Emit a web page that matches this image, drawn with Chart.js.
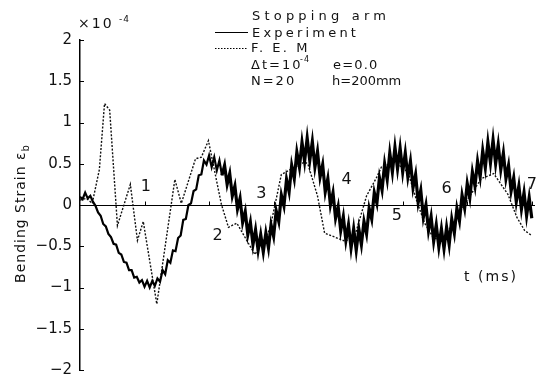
<!DOCTYPE html>
<html><head><meta charset="utf-8">
<script src="https://cdn.jsdelivr.net/npm/chart.js@4"></script>
<style>html,body{margin:0;padding:0;background:#fff;}#wrap{width:536px;height:387px;}</style>
</head><body><div id="wrap"><canvas id="c" width="536" height="387"></canvas></div>
<script>
// ---- data (time in ms, strain in 1e-4) ----
const expStart = 0;
const expStep = 0.04;
const expStrain = [
 0.10,0.07,0.15,0.08,0.11,0.04,-0.01,-0.09,-0.13,-0.23,
 -0.26,-0.35,-0.39,-0.47,-0.48,-0.58,-0.60,-0.69,-0.70,-0.79,
 -0.79,-0.88,-0.87,-0.94,-0.91,-0.99,-0.92,-1.00,-0.92,-0.98,
 -0.89,-0.93,-0.79,-0.84,-0.67,-0.70,-0.55,-0.56,-0.40,-0.37,
 -0.18,-0.17,0.00,0.02,0.17,0.19,0.36,0.37,0.54,0.49,
 0.60,0.46,0.58,0.42,0.54,0.36,0.48,0.25,0.38,0.11,
 0.23,-0.05,0.08,-0.21,-0.08,-0.36,-0.21,-0.48,-0.30,-0.55,
 -0.36,-0.57,-0.34,-0.52,-0.24,-0.38,-0.07,-0.20,0.12,-0.01,
 0.31,0.16,0.48,0.32,0.64,0.46,0.76,0.53,0.81,0.54,
 0.77,0.46,0.65,0.34,0.49,0.16,0.32,0.00,0.15,-0.16,
 -0.02,-0.31,-0.14,-0.43,-0.24,-0.52,-0.29,-0.55,-0.29,-0.48,
 -0.20,-0.35,-0.04,-0.17,0.15,0.02,0.33,0.18,0.50,0.31,
 0.63,0.40,0.70,0.44,0.69,0.40,0.63,0.34,0.53,0.21,
 0.37,0.03,0.18,-0.15,0.00,-0.31,-0.14,-0.44,-0.24,-0.51,
 -0.29,-0.53,-0.27,-0.48,-0.17,-0.34,-0.04,-0.19,0.12,-0.04,
 0.26,0.09,0.40,0.23,0.53,0.34,0.66,0.45,0.76,0.51,
 0.79,0.50,0.73,0.43,0.63,0.32,0.48,0.17,0.33,0.04,
 0.23,-0.05,0.15,-0.13,0.09,-0.16
];
const femTime = [0,0.10,0.19,0.30,0.38,0.46,0.58,0.78,0.89,0.98,1.19,1.47,1.57,1.79,1.88,1.99,2.19,2.30,2.43,2.71,2.94,3.12,3.33,3.48,3.53,3.68,3.79,3.95,4.11,4.26,4.44,4.60,4.67,4.88,5.08,5.23,5.34,5.47,5.60,5.81,6.04,6.22,6.41,6.63,6.77,6.89,7.00];
const femStrain = [0.06,0.08,0.02,0.43,1.23,1.15,-0.25,0.25,-0.43,-0.20,-1.20,0.31,0.02,0.56,0.58,0.78,0.01,-0.27,-0.22,-0.60,-0.30,0.37,0.46,0.52,0.50,0.11,-0.34,-0.39,-0.44,-0.37,0.11,0.34,0.46,0.52,0.40,0.02,-0.22,-0.39,-0.44,-0.19,0.11,0.32,0.38,0.13,-0.15,-0.31,-0.37];
const yTicks = [-2,-1.5,-1,-0.5,0,0.5,1,1.5,2];
const xTicks = [1,2,3,4,5,6,7];
const xTickLabels = ['1','2','3','4','5','6','7'];

const expData = expStrain.map((v,i)=>({x: +(expStart + i*expStep).toFixed(3), y: v}));
const femData = femTime.map((t,i)=>({x: t, y: femStrain[i]}));

// label placement (data coords) for the hand-placed time labels
const xLabelPlace = [[1.02,0.22],[2.13,-0.37],[2.81,0.13],[4.13,0.31],[4.91,-0.13],[5.68,0.19],[7.0,0.24]];

const FONT = "'DejaVu Sans', sans-serif";
function txt(ctx, s, x, y, size, spacing, align){
  ctx.font = size + 'px ' + FONT;
  ctx.letterSpacing = (spacing||0) + 'px';
  ctx.textAlign = align || 'left';
  ctx.fillText(s, x, y);
}

const overlay = {
  id: 'overlay',
  afterDraw(chart){
    const {ctx, scales:{x, y}} = chart;
    ctx.save();
    ctx.fillStyle = '#111';
    ctx.strokeStyle = '#000';
    ctx.lineWidth = 1;
    yTicks.forEach(v=>{
      const py = Math.round(y.getPixelForValue(v)) + 0.5;
      ctx.beginPath(); ctx.moveTo(x.left, py); ctx.lineTo(x.left + 4, py); ctx.stroke();
    });
    const y0 = Math.round(y.getPixelForValue(0)) + 0.5;
    xTicks.forEach(v=>{
      const px = Math.round(x.getPixelForValue(v)) + 0.5;
      ctx.beginPath(); ctx.moveTo(px, y0); ctx.lineTo(px, y0 - 4); ctx.stroke();
    });
    ctx.textBaseline = 'middle';
    xTickLabels.forEach((s,i)=>{
      const p = xLabelPlace[i];
      txt(ctx, s, x.getPixelForValue(p[0]), y.getPixelForValue(p[1]), 16, 0, 'center');
    });
    txt(ctx, 't (ms)', 491, 277, 14, 2, 'center');
    ctx.textBaseline = 'alphabetic';
    txt(ctx, '×10', 78, 28, 14, 2, 'left');
    txt(ctx, '-4', 119, 22, 9, 1, 'left');
    txt(ctx, 'Stopping arm', 252, 20, 13, 4.2, 'left');
    txt(ctx, 'Experiment', 252, 37, 13, 3.2, 'left');
    txt(ctx, 'F. E. M', 251, 52, 13, 2.5, 'left');
    txt(ctx, 'Δt=10', 251, 69, 13, 2, 'left');
    txt(ctx, '-4', 300, 62, 8, 1, 'left');
    txt(ctx, 'e=0.0', 333, 69, 13, 1.2, 'left');
    txt(ctx, 'N=20', 251, 85, 13, 2, 'left');
    txt(ctx, 'h=200mm', 332, 85, 13, 0, 'left');
    ctx.lineWidth = 1.2;
    ctx.beginPath(); ctx.moveTo(215, 32.5); ctx.lineTo(248, 32.5); ctx.stroke();
    ctx.setLineDash([1.5,1.5]);
    ctx.beginPath(); ctx.moveTo(215, 48.5); ctx.lineTo(248, 48.5); ctx.stroke();
    ctx.setLineDash([]);
    ctx.translate(21, 214);
    ctx.rotate(-Math.PI/2);
    ctx.textBaseline = 'middle';
    ctx.font = '14px ' + FONT;
    ctx.letterSpacing = '1px';
    const main = 'Bending Strain ε';
    const w1 = ctx.measureText(main).width;
    ctx.font = '10px ' + FONT;
    ctx.letterSpacing = '0px';
    const w2 = ctx.measureText('b').width;
    const start = -(w1 + w2)/2;
    txt(ctx, main, start, 0, 14, 1, 'left');
    txt(ctx, 'b', start + w1, 5, 10, 0, 'left');
    ctx.restore();
  }
};

new Chart(document.getElementById('c'), {
  type: 'line',
  data: {
    datasets: [
      {label:'Experiment', data: expData, borderColor:'#000', borderWidth:2.2, pointRadius:0, tension:0, fill:false,
       segment:{borderWidth:(c)=> (c.p0.parsed.x >= 2.2 ? 3.2 : 2.2)}},
      {label:'F. E. M', data: femData, borderColor:'#111', borderWidth:1.4, borderDash:[2,1.6], pointRadius:0, tension:0, fill:false}
    ]
  },
  options: {
    responsive:false, animation:false, devicePixelRatio:1,
    layout:{padding:{left:0, top:40, right:1, bottom:9}},
    plugins:{legend:{display:false}, tooltip:{enabled:false}},
    scales:{
      x:{type:'linear', min:0, max:7.05, display:false},
      y:{
        min:-2, max:2,
        afterFit(s){ s.width = 80; },
        afterBuildTicks(s){ s.ticks = yTicks.map(v=>({value:v})); },
        ticks:{
          font:{family:FONT, size:15}, color:'#111', padding:8,
          callback:(v)=> (v<0 ? '−' + String(Math.abs(v)) : String(v))
        },
        grid:{drawTicks:false, color:(c)=> (c.tick && c.tick.value===0 ? '#000' : 'rgba(0,0,0,0)'), lineWidth:1},
        border:{display:true, color:'#000', width:1.5}
      }
    }
  },
  plugins:[overlay]
});
</script></body></html>
